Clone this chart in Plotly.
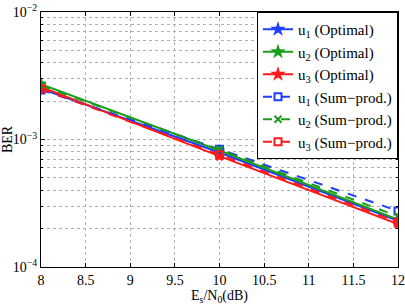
import plotly.graph_objects as go

snr = [8, 10, 12]
ber_u1_opt = [2.50e-3, 7.9e-4, 2.30e-4]
ber_u2_opt = [2.72e-3, 8.2e-4, 2.36e-4]
ber_u3_opt = [2.58e-3, 7.4e-4, 2.17e-4]
ber_u1_sp = [2.45e-3, 8.4e-4, 2.75e-4]
ber_u2_sp = [2.65e-3, 8.3e-4, 2.50e-4]
ber_u3_sp = [2.50e-3, 7.6e-4, 2.25e-4]

names = ["u<sub>1</sub> (Optimal)", "u<sub>2</sub> (Optimal)", "u<sub>3</sub> (Optimal)",
         "u<sub>1</sub> (Sum\u2212prod.)", "u<sub>2</sub> (Sum\u2212prod.)", "u<sub>3</sub> (Sum\u2212prod.)"]
series = [ber_u1_opt, ber_u2_opt, ber_u3_opt, ber_u1_sp, ber_u2_sp, ber_u3_sp]
colors = ["#1f3dff", "#1a9e1a", "#ff1a1a", "#1f3dff", "#1a9e1a", "#ff1a1a"]
dashes = ["solid", "solid", "solid", "dash", "dash", "dash"]
symbols = ["star", "star", "star", "square-open", "x-thin-open", "square-open"]

fig = go.Figure()
for nm, ys, c, d, s in zip(names, series, colors, dashes, symbols):
    fig.add_trace(go.Scatter(
        x=snr, y=ys, name=nm, mode="lines+markers",
        line=dict(color=c, dash=d, width=2),
        marker=dict(symbol=s, size=7, color=c, line=dict(color=c, width=2)),
    ))

fam = "Liberation Serif, Times New Roman, serif"
font = dict(family=fam, size=14, color="black")
fig.update_layout(
    width=405, height=305,
    margin=dict(l=41, r=7, t=12, b=38),
    paper_bgcolor="white", plot_bgcolor="white",
    font=font,
    showlegend=True,
    legend=dict(x=1, y=1, xanchor="right", yanchor="top",
                bordercolor="black", borderwidth=1, bgcolor="white",
                font=dict(family=fam, size=15, color="black"), tracegroupgap=0,
                itemwidth=30),
    xaxis=dict(range=[8, 12], tickvals=[8, 8.5, 9, 9.5, 10, 10.5, 11, 11.5, 12],
               ticktext=["8", "8.5", "9", "9.5", "10", "10.5", "11", "11.5", "12"],
               showgrid=True, gridcolor="#b0b0b0", griddash="dot", gridwidth=1,
               showline=True, linecolor="black", linewidth=1, mirror="allticks",
               ticks="inside", ticklen=4, tickcolor="black", zeroline=False,
               automargin=False,
               title=dict(text="E<sub>s</sub>/N<sub>0</sub>(dB)", standoff=0, font=font)),
    yaxis=dict(type="log", range=[-4, -2], tickvals=[1e-4, 1e-3, 1e-2],
               ticktext=["10<sup>\u22124</sup>", "10<sup>\u22123</sup>", "10<sup>\u22122</sup>"],
               showgrid=True, gridcolor="#b0b0b0", griddash="dot", gridwidth=1,
               minor=dict(tickvals=[k * 10 ** e for e in (-4, -3) for k in range(2, 10)],
                          showgrid=True, gridcolor="#b0b0b0", griddash="dot",
                          ticks="inside", ticklen=2, tickcolor="black"),
               showline=True, linecolor="black", linewidth=1, mirror="allticks",
               ticks="inside", ticklen=4, tickcolor="black", zeroline=False,
               automargin=False,
               title=dict(text="BER", standoff=0, font=font)),
)
fig.write_html("out.html", config={"displayModeBar": False},
               post_script="document.body.style.margin='0';document.body.style.overflow='hidden';")
